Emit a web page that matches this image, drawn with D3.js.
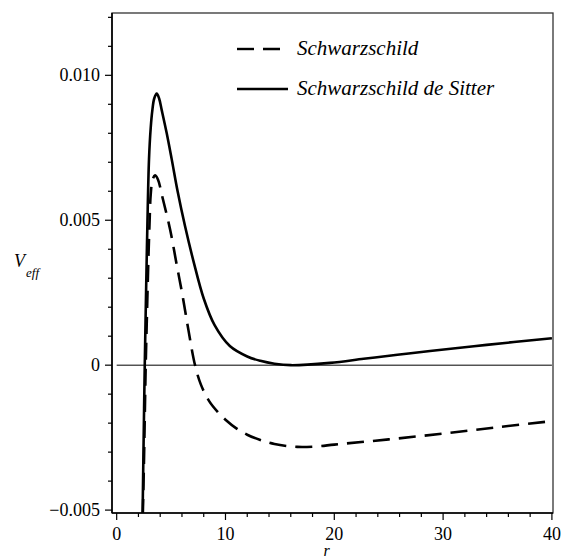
<!DOCTYPE html>
<html>
<head>
<meta charset="utf-8">
<script src="https://cdn.jsdelivr.net/npm/d3@7/dist/d3.min.js"></script>
<style>
  html, body { margin: 0; padding: 0; background: #fff; }
  svg { display: block; }
</style>
</head>
<body>
<svg id="chart" width="565" height="559"></svg>
<script>
// Effective potential V_eff(r), Schwarzschild vs Schwarzschild–de Sitter
const schwR = [2.40, 2.50, 2.67, 2.80, 2.91, 3.02, 3.13, 3.30, 3.52, 3.80, 4.20, 4.90, 5.50, 6.10, 6.60, 7.20, 7.75, 8.50, 9.30, 10.0, 11.0, 12.0, 13.2, 14.5, 16.6, 18.5, 20.0, 25.0, 30.0, 35.0, 40.0];
const schwV = [-0.0052, -0.0035, 0.0, 0.0020, 0.0036, 0.0049, 0.0059, 0.0064, 0.00655, 0.0064, 0.0058, 0.0047, 0.0035, 0.0023, 0.0012, 0.0, -0.00068, -0.00124, -0.00162, -0.00188, -0.00218, -0.0024, -0.00258, -0.00272, -0.00282, -0.0028, -0.00274, -0.00256, -0.00236, -0.00214, -0.00193];

const sdsR = [2.38, 2.45, 2.58, 2.70, 2.82, 2.97, 3.13, 3.28, 3.45, 3.68, 3.90, 4.14, 4.60, 5.06, 5.60, 6.28, 7.05, 8.00, 9.00, 10.4, 12.0, 13.2, 14.5, 16.0, 19.6, 22.7, 25.8, 28.8, 34.0, 40.0];
const sdsV = [-0.0052, -0.0033, 0.0, 0.0025, 0.0048, 0.0071, 0.0082, 0.0088, 0.0092, 0.00937, 0.0092, 0.0088, 0.0080, 0.0071, 0.0060, 0.0048, 0.0036, 0.0023, 0.00138, 0.00066, 0.0003, 0.00015, 0.00005, 0.0, 0.00008, 0.00022, 0.00036, 0.00049, 0.0007, 0.00093];

const xMajor = [0, 10, 20, 30, 40];
const xMinor = [2, 4, 6, 8, 12, 14, 16, 18, 22, 24, 26, 28, 32, 34, 36, 38];
const yMajor = [-0.005, 0, 0.005, 0.010];
const yMajorLabels = ["\u22120.005", "0", "0.005", "0.010"];
const yMinor = [-0.004, -0.003, -0.002, -0.001, 0.001, 0.002, 0.003, 0.004, 0.006, 0.007, 0.008, 0.009, 0.011, 0.012];

const legendNames = ["Schwarzschild", "Schwarzschild de Sitter"];

// pick the first installed serif face (width test against a monospace fallback)
function pickSerif(candidates) {
  const ctx = document.createElement("canvas").getContext("2d");
  const sample = "Schwarzschild 0.010 mmmWWiil";
  ctx.font = "40px monospace";
  const base = ctx.measureText(sample).width;
  for (const c of candidates) {
    ctx.font = `40px "${c}", monospace`;
    if (Math.abs(ctx.measureText(sample).width - base) > 0.5) return `"${c}"`;
  }
  return "serif";
}
const FONT = pickSerif(["Liberation Serif", "Times New Roman", "Tinos", "Times", "Nimbus Roman", "Nimbus Roman No9 L", "DejaVu Serif", "Noto Serif", "FreeSerif", "Noto Serif CJK SC"]) + ", serif";

const svg = d3.select("#chart");
const pLeft = 112, pRight = 553, pTop = 13, pBottom = 513;

const x = d3.scaleLinear().domain([-0.43, 40.1]).range([pLeft, pRight]);
const y = d3.scaleLinear().domain([-0.0051, 0.01215]).range([pBottom, pTop]);

svg.append("defs").append("clipPath").attr("id", "plotclip")
  .append("rect").attr("x", pLeft).attr("y", pTop)
  .attr("width", pRight - pLeft).attr("height", pBottom - pTop);

// frame
svg.append("rect")
  .attr("x", pLeft).attr("y", pTop)
  .attr("width", pRight - pLeft).attr("height", pBottom - pTop)
  .attr("fill", "none").attr("stroke", "#333").attr("stroke-width", 1.3);

// zero line
svg.append("line")
  .attr("x1", x(0)).attr("x2", x(40))
  .attr("y1", y(0)).attr("y2", y(0))
  .attr("stroke", "#000").attr("stroke-width", 1);

// y axis
const yAxis = svg.append("g");
yAxis.append("line").attr("x1", pLeft).attr("x2", pLeft).attr("y1", pTop).attr("y2", pBottom)
  .attr("stroke", "#000").attr("stroke-width", 1.6);
yAxis.selectAll(".ymaj").data(yMajor).join("line")
  .attr("x1", pLeft - 7).attr("x2", pLeft)
  .attr("y1", d => y(d)).attr("y2", d => y(d))
  .attr("stroke", "#000").attr("stroke-width", 1.2);
yAxis.selectAll(".ymin").data(yMinor).join("line")
  .attr("x1", pLeft - 4).attr("x2", pLeft)
  .attr("y1", d => y(d)).attr("y2", d => y(d))
  .attr("stroke", "#000").attr("stroke-width", 1.2);
yAxis.selectAll("text").data(yMajor).join("text")
  .attr("x", pLeft - 12).attr("y", d => y(d))
  .attr("dy", "0.33em")
  .attr("text-anchor", "end")
  .attr("font-family", FONT)
  .attr("font-size", 18)
  .text((d, i) => yMajorLabels[i]);

// x axis
const xAxis = svg.append("g");
xAxis.append("line").attr("x1", pLeft).attr("x2", pRight).attr("y1", pBottom).attr("y2", pBottom)
  .attr("stroke", "#000").attr("stroke-width", 1.6);
xAxis.selectAll(".xmaj").data(xMajor).join("line")
  .attr("x1", d => x(d)).attr("x2", d => x(d))
  .attr("y1", pBottom).attr("y2", pBottom + 7)
  .attr("stroke", "#000").attr("stroke-width", 1.2);
xAxis.selectAll(".xmin").data(xMinor).join("line")
  .attr("x1", d => x(d)).attr("x2", d => x(d))
  .attr("y1", pBottom).attr("y2", pBottom + 4)
  .attr("stroke", "#000").attr("stroke-width", 1.2);
xAxis.selectAll("text").data(xMajor).join("text")
  .attr("x", d => x(d)).attr("y", 540)
  .attr("text-anchor", "middle")
  .attr("font-family", FONT)
  .attr("font-size", 18)
  .text(d => d);

// axis titles
svg.append("text").attr("x", x(19.3)).attr("y", 556)
  .attr("text-anchor", "middle").attr("font-family", FONT)
  .attr("font-size", 16).attr("font-style", "italic").text("r");
const vt = svg.append("text").attr("x", 14).attr("y", 267)
  .attr("font-family", FONT).attr("font-style", "italic");
vt.append("tspan").attr("font-size", 18).text("V");
vt.append("tspan").attr("font-size", 13).attr("dy", 10).attr("dx", 1).text("eff");

// curves
const line = d3.line().x(d => x(d[0])).y(d => y(d[1])).curve(d3.curveCatmullRom.alpha(0.5));
const plot = svg.append("g").attr("clip-path", "url(#plotclip)");
plot.append("path")
  .attr("d", line(d3.zip(schwR, schwV)))
  .attr("fill", "none").attr("stroke", "#000").attr("stroke-width", 2.6)
  .attr("stroke-dasharray", "17,9");
plot.append("path")
  .attr("d", line(d3.zip(sdsR, sdsV)))
  .attr("fill", "none").attr("stroke", "#000").attr("stroke-width", 2.6);

// legend
const legend = svg.append("g");
const rows = [{ y: 49, dash: "17,9" }, { y: 89, dash: null }];
rows.forEach((r, i) => {
  const ln = legend.append("line")
    .attr("x1", 237).attr("x2", 288).attr("y1", r.y).attr("y2", r.y)
    .attr("stroke", "#000").attr("stroke-width", 2.4);
  if (r.dash) ln.attr("stroke-dasharray", r.dash);
  legend.append("text").attr("x", 297).attr("y", r.y).attr("dy", "0.3em")
    .attr("font-family", FONT)
    .attr("font-size", 21).attr("font-style", "italic").text(legendNames[i]);
});
</script>
</body>
</html>
